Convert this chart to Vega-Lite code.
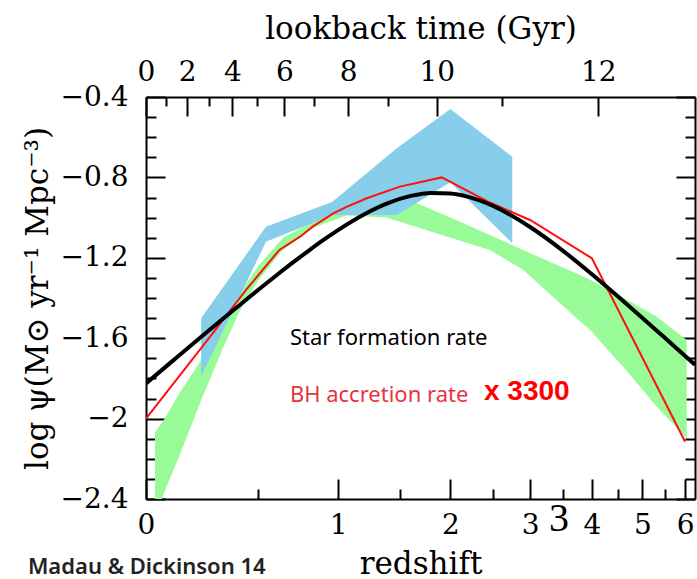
{
  "$schema": "https://vega.github.io/schema/vega-lite/v6.json",
  "width": 549,
  "height": 402,
  "autosize": {"type": "none"},
  "padding": {"left": 146, "top": 97, "right": 2, "bottom": 80},
  "background": "white",
  "config": {
    "view": {"stroke": null},
    "axis": {
      "grid": false,
      "domainColor": "black",
      "domainWidth": 2,
      "tickColor": "black",
      "tickWidth": 2,
      "labelColor": "black",
      "titleColor": "black",
      "labelFont": "DejaVu Serif",
      "titleFont": "DejaVu Serif",
      "labelFontSize": 28,
      "titleFontSize": 31,
      "titleFontWeight": "normal",
      "labelFlush": false,
      "labelOverlap": false
    }
  },
  "datasets": {
    "green": [
      {"opz": 1.033, "lo": -2.5, "hi": -2.07},
      {"opz": 1.07, "lo": -2.36, "hi": -2.0},
      {"opz": 1.13, "lo": -2.18, "hi": -1.87},
      {"opz": 1.22, "lo": -1.91, "hi": -1.71},
      {"opz": 1.32, "lo": -1.65, "hi": -1.52},
      {"opz": 1.4, "lo": -1.47, "hi": -1.38},
      {"opz": 1.5, "lo": -1.31, "hi": -1.24},
      {"opz": 1.64, "lo": -1.16, "hi": -1.1},
      {"opz": 1.83, "lo": -1.05, "hi": -1.02},
      {"opz": 2.06, "lo": -0.99, "hi": -0.96},
      {"opz": 2.38, "lo": -1.0, "hi": -0.93},
      {"opz": 2.62, "lo": -1.04, "hi": -0.92},
      {"opz": 3.0, "lo": -1.1, "hi": -1.0},
      {"opz": 3.46, "lo": -1.161, "hi": -1.087},
      {"opz": 3.9, "lo": -1.26, "hi": -1.161},
      {"opz": 4.4, "lo": -1.41, "hi": -1.234},
      {"opz": 4.67, "lo": -1.485, "hi": -1.269},
      {"opz": 4.97, "lo": -1.559, "hi": -1.31},
      {"opz": 5.27, "lo": -1.651, "hi": -1.352},
      {"opz": 5.6, "lo": -1.742, "hi": -1.399},
      {"opz": 6.32, "lo": -1.941, "hi": -1.493},
      {"opz": 7.04, "lo": -2.098, "hi": -1.609}
    ],
    "blue": [
      {"opz": 1.22, "lo": -1.792, "hi": -1.501},
      {"opz": 1.542, "lo": -1.12, "hi": -1.045},
      {"opz": 1.96, "lo": -0.987, "hi": -0.921},
      {"opz": 2.472, "lo": -0.987, "hi": -0.655},
      {"opz": 3.0, "lo": -0.824, "hi": -0.46},
      {"opz": 3.751, "lo": -1.128, "hi": -0.697}
    ],
    "red": [
      {"opz": 1.0, "val": -2.0},
      {"opz": 1.272, "val": -1.576},
      {"opz": 1.435, "val": -1.36},
      {"opz": 1.618, "val": -1.161},
      {"opz": 1.744, "val": -1.095},
      {"opz": 1.825, "val": -1.045},
      {"opz": 1.966, "val": -0.979},
      {"opz": 2.059, "val": -0.948},
      {"opz": 2.218, "val": -0.904},
      {"opz": 2.501, "val": -0.846},
      {"opz": 2.908, "val": -0.8},
      {"opz": 3.46, "val": -0.925},
      {"opz": 4.0, "val": -1.012},
      {"opz": 5.0, "val": -1.2025},
      {"opz": 7.0, "val": -2.115}
    ],
    "black": [
      {"opz": 1.0, "val": -1.825},
      {"opz": 1.1, "val": -1.714},
      {"opz": 1.2, "val": -1.613},
      {"opz": 1.3, "val": -1.521},
      {"opz": 1.4, "val": -1.437},
      {"opz": 1.5, "val": -1.359},
      {"opz": 1.6, "val": -1.288},
      {"opz": 1.7, "val": -1.223},
      {"opz": 1.8, "val": -1.164},
      {"opz": 1.9, "val": -1.11},
      {"opz": 2.0, "val": -1.062},
      {"opz": 2.2, "val": -0.983},
      {"opz": 2.4, "val": -0.927},
      {"opz": 2.6, "val": -0.892},
      {"opz": 2.8, "val": -0.877},
      {"opz": 3.0, "val": -0.88},
      {"opz": 3.2, "val": -0.897},
      {"opz": 3.5, "val": -0.942},
      {"opz": 4.0, "val": -1.047},
      {"opz": 4.5, "val": -1.164},
      {"opz": 5.0, "val": -1.282},
      {"opz": 5.5, "val": -1.394},
      {"opz": 6.0, "val": -1.499},
      {"opz": 6.5, "val": -1.597},
      {"opz": 7.0, "val": -1.688},
      {"opz": 7.254, "val": -1.732}
    ]
  },
  "layer": [
    {
      "data": {"name": "green"},
      "mark": {"type": "area", "color": "#98FB98", "opacity": 1, "clip": true},
      "encoding": {
        "x": {"field": "opz", "type": "quantitative", "scale": {"type": "log", "domain": [1, 7.254], "nice": false},
          "axis": {"orient": "bottom", "values": [1, 2, 3, 4, 5, 6, 7], "labelExpr": "format(datum.value - 1, 'd')", "tickSize": -20, "labelPadding": 32, "title": "redshift", "titlePadding": 10}},
        "y": {"field": "lo", "type": "quantitative", "scale": {"domain": [-2.4, -0.4], "nice": false, "zero": false},
          "axis": {"orient": "left", "values": [-2.4, -2, -1.6, -1.2, -0.8, -0.4], "format": "~g", "tickSize": -19, "labelPadding": 37, "title": "log ψ(M⊙ yr⁻¹ Mpc⁻³)", "titlePadding": 6}},
        "y2": {"field": "hi"}
      }
    },
    {
      "data": {"name": "blue"},
      "mark": {"type": "area", "color": "#87CEEB", "opacity": 1, "clip": true},
      "encoding": {
        "x": {"field": "opz", "type": "quantitative", "scale": {"type": "log", "domain": [1, 7.254], "nice": false},
          "axis": {"orient": "bottom", "values": [1.5, 2.5, 3.5, 4.5, 5.5, 6.5], "tickSize": -10, "labels": false, "domain": false, "title": null}},
        "y": {"field": "lo", "type": "quantitative", "scale": {"domain": [-2.4, -0.4], "nice": false, "zero": false},
          "axis": {"orient": "left", "values": [-2.3, -2.2, -2.1, -1.9, -1.8, -1.7, -1.5, -1.4, -1.3, -1.1, -1.0, -0.9, -0.7, -0.6, -0.5], "tickSize": -10, "labels": false, "domain": false, "title": null}},
        "y2": {"field": "hi"}
      }
    },
    {
      "data": {"name": "red"},
      "mark": {"type": "line", "color": "#FF1010", "strokeWidth": 2, "clip": true},
      "encoding": {
        "x": {"field": "opz", "type": "quantitative", "scale": {"type": "log", "domain": [1, 7.254], "nice": false},
          "axis": {"orient": "top", "values": [1, 1.1602, 1.366, 1.6477, 2.075, 2.8563, 5.116], "labelExpr": "datum.value < 1.05 ? '0' : datum.value < 1.25 ? '2' : datum.value < 1.5 ? '4' : datum.value < 1.8 ? '6' : datum.value < 2.4 ? '8' : datum.value < 4 ? '10' : '12'", "tickSize": -19, "labelPadding": 30, "title": "lookback time (Gyr)", "titlePadding": 13}},
        "y": {"field": "val", "type": "quantitative", "scale": {"domain": [-2.4, -0.4], "nice": false, "zero": false},
          "axis": {"orient": "right", "values": [-2.4, -2, -1.6, -1.2, -0.8, -0.4], "tickSize": -19, "labels": false, "title": null}}
      }
    },
    {
      "data": {"name": "black"},
      "mark": {"type": "line", "color": "black", "strokeWidth": 4, "interpolate": "monotone", "clip": true},
      "encoding": {
        "x": {"field": "opz", "type": "quantitative", "scale": {"type": "log", "domain": [1, 7.254], "nice": false},
          "axis": {"orient": "top", "values": [1.0756, 1.256, 1.4944, 1.8356, 2.3953, 3.6111], "tickSize": -9, "labels": false, "domain": false, "title": null}},
        "y": {"field": "val", "type": "quantitative", "scale": {"domain": [-2.4, -0.4], "nice": false, "zero": false},
          "axis": {"orient": "right", "values": [-2.3, -2.2, -2.1, -1.9, -1.8, -1.7, -1.5, -1.4, -1.3, -1.1, -1.0, -0.9, -0.7, -0.6, -0.5], "tickSize": -10, "labels": false, "domain": false, "title": null}}
      }
    },
    {
      "data": {"values": [{"opz": 1.681, "val": -1.599, "label": "Star formation rate"}]},
      "mark": {"type": "text", "align": "left", "baseline": "middle", "font": "Noto Sans", "fontSize": 22, "color": "black", "clip": false},
      "encoding": {
        "x": {"field": "opz", "type": "quantitative", "axis": null},
        "y": {"field": "val", "type": "quantitative", "axis": null},
        "text": {"field": "label"}
      }
    },
    {
      "data": {"values": [{"opz": 1.681, "val": -1.883, "label": "BH accretion rate"}]},
      "mark": {"type": "text", "align": "left", "baseline": "middle", "font": "Noto Sans", "fontSize": 22, "color": "#E8323F", "clip": false},
      "encoding": {
        "x": {"field": "opz", "type": "quantitative", "axis": null},
        "y": {"field": "val", "type": "quantitative", "axis": null},
        "text": {"field": "label"}
      }
    },
    {
      "data": {"values": [{"opz": 3.387, "val": -1.868, "label": "x 3300"}]},
      "mark": {"type": "text", "align": "left", "baseline": "middle", "font": "Liberation Sans", "fontWeight": "bold", "fontSize": 28, "color": "#FF0000", "clip": false},
      "encoding": {
        "x": {"field": "opz", "type": "quantitative", "axis": null},
        "y": {"field": "val", "type": "quantitative", "axis": null},
        "text": {"field": "label"}
      }
    },
    {
      "data": {"values": [{"opz": 0.653, "val": -2.738, "label": "Madau & Dickinson 14"}]},
      "mark": {"type": "text", "align": "left", "baseline": "middle", "font": "Noto Sans", "fontWeight": 600, "fontSize": 22, "color": "#222222", "clip": false},
      "encoding": {
        "x": {"field": "opz", "type": "quantitative", "axis": null},
        "y": {"field": "val", "type": "quantitative", "axis": null},
        "text": {"field": "label"}
      }
    },
    {
      "data": {"values": [{"opz": 4.441, "val": -2.499, "label": "3"}]},
      "mark": {"type": "text", "align": "center", "baseline": "middle", "font": "Liberation Serif", "fontSize": 40, "color": "black", "clip": false},
      "encoding": {
        "x": {"field": "opz", "type": "quantitative", "axis": null},
        "y": {"field": "val", "type": "quantitative", "axis": null},
        "text": {"field": "label"}
      }
    }
  ],
  "resolve": {"axis": {"x": "independent", "y": "independent"}}
}
